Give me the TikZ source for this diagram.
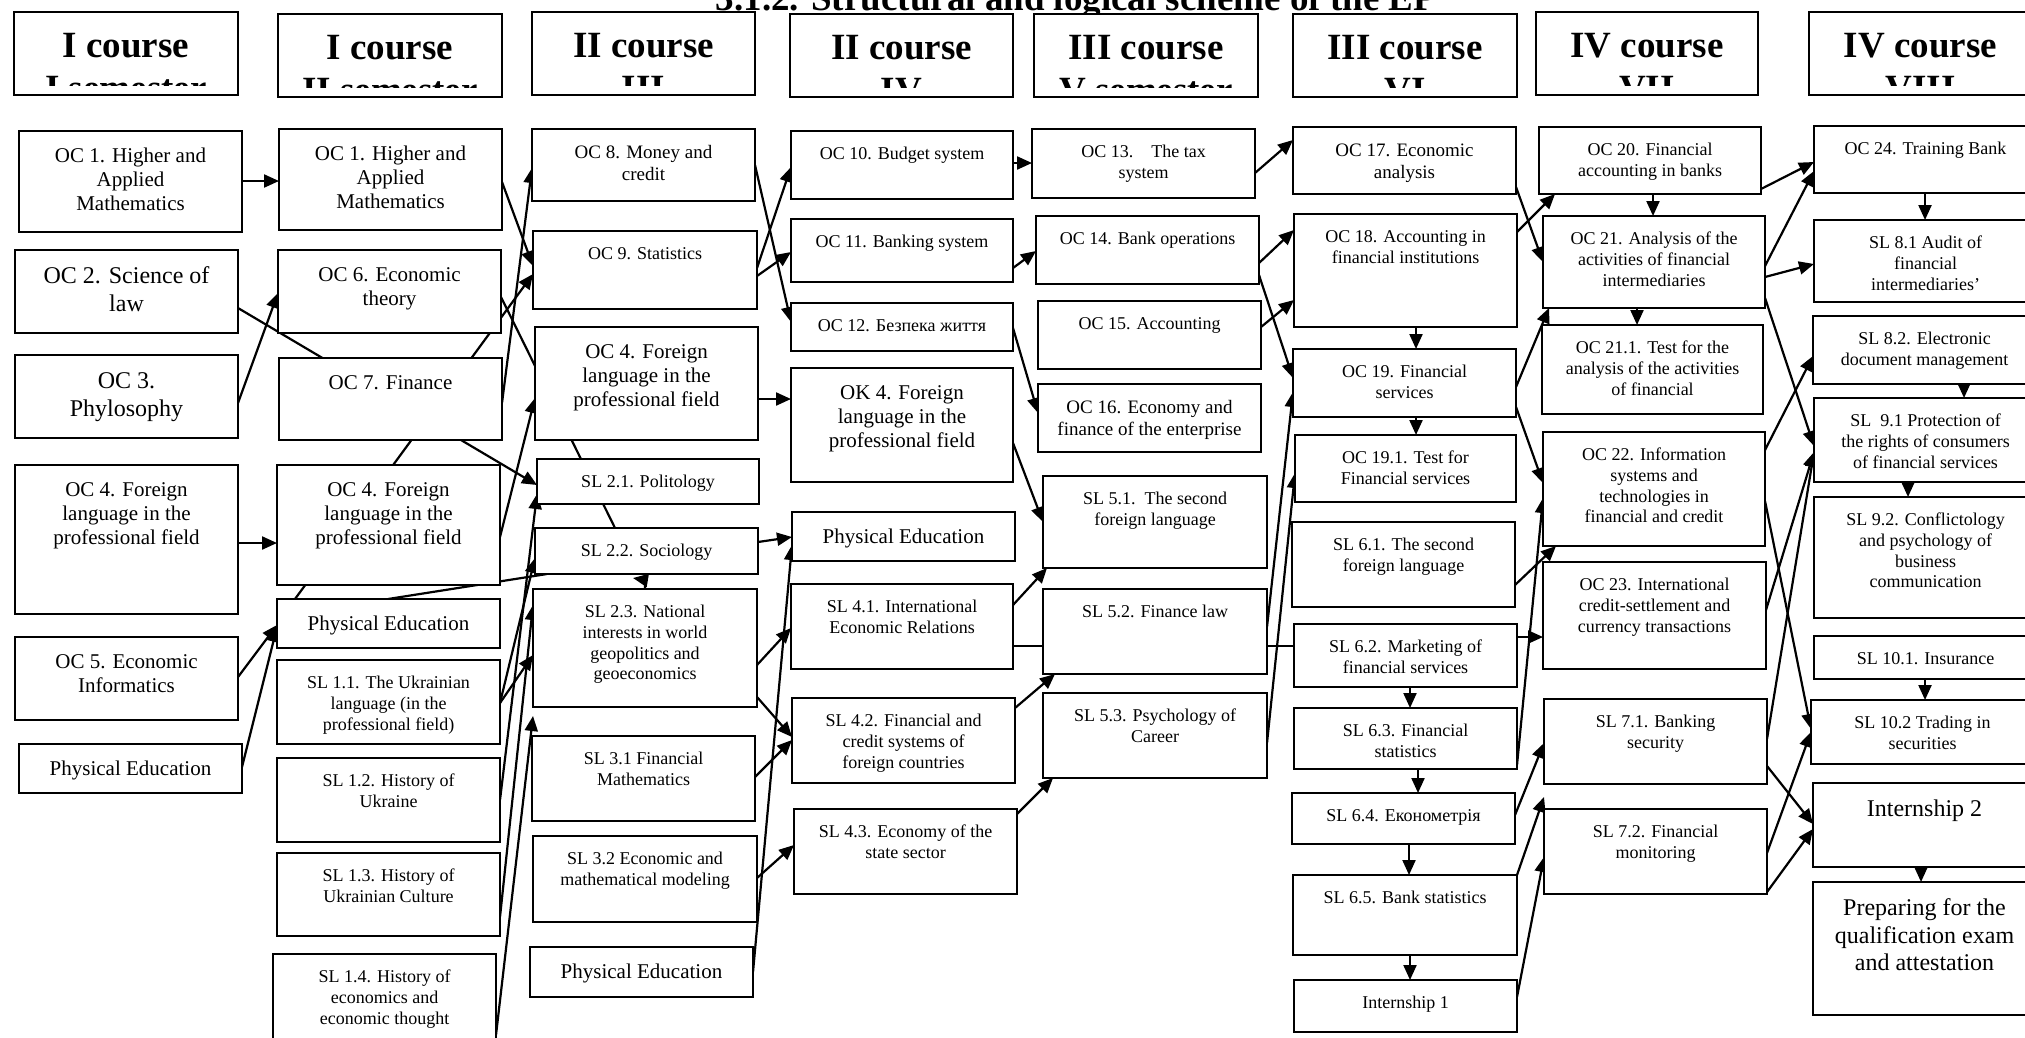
\documentclass[tikz,border=0pt]{standalone}
\usepackage{fontspec}
\setmainfont{Liberation Serif}
\usetikzlibrary{arrows.meta,calc}
\pgfdeclarelayer{bg}
\pgfsetlayers{bg,main}
\tikzset{
 bx/.style={draw, line width=2pt, fill=white, inner sep=0pt, outer sep=0pt, anchor=north west},
 hbx/.style={draw, line width=2.6pt, fill=white, inner sep=0pt, outer sep=0pt, anchor=north west},
 txt/.style={align=center, inner sep=0pt, anchor=north},
 htxt/.style={align=center, inner sep=0pt, anchor=north, font=\bfseries\fontsize{37}{42.5}\selectfont},
 f18/.style={font=\fontsize{18}{20.7}\selectfont},
 f19/.style={font=\fontsize{19}{21.85}\selectfont},
 f21/.style={font=\fontsize{21}{24.15}\selectfont},
 f24/.style={font=\fontsize{24}{27.6}\selectfont},
 arr/.style={line width=2.2pt, -{Triangle[length=15pt,width=13pt]}},
 ln/.style={line width=2.2pt},
}
\newcommand{\mybox}[7]{%
  \node[bx, minimum width={#4-#2}, minimum height={#5-#3}] (#1) at (#2,#3) {};
  \node[txt, #6] (#1-t) at ($(#1.north)+(0,14)$) {\strut #7};
}
\newcommand{\myhead}[6]{%
  \node[hbx, minimum width={#4-#2}, minimum height={#5-#3}] (#1) at (#2,#3) {};
  \begin{scope}
    \clip (#2,#3) rectangle (#4,#5-10);
    \node[htxt] (#1-t) at ($(#1.north)+(0,16)$) {\strut #6};
  \end{scope}
}
\begin{document}
\begin{tikzpicture}[x=1pt,y=-1pt]
\useasboundingbox (0,0) rectangle (2025,1037);
\node[font=\bfseries\fontsize{37}{42}\selectfont, anchor=base, inner sep=0pt] (title) at (1076,10) {3.1.2. Structural and logical scheme of the EP};

% headers
\myhead{h1}{14}{12}{238}{95}{I course\\I semester}
\myhead{h2}{278}{14}{502}{97}{I course\\II semester}
\myhead{h3}{532}{12}{755}{95}{II course\\III}
\myhead{h4}{790}{14}{1013}{97}{II course\\IV}
\myhead{h5}{1034}{14}{1258}{97}{III course\\V semester}
\myhead{h6}{1293}{14}{1517}{97}{III course\\VI}
\myhead{h7}{1536}{12}{1758}{95}{IV course\\VII}
\myhead{h8}{1809}{12}{2032}{95}{IV course\\VIII}

% column 1
\mybox{oc1a}{19}{131}{242}{232}{f21}{OC 1. Higher and\\Applied\\Mathematics}
\mybox{oc2}{15}{250}{238}{333}{f24}{OC 2. Science of\\law}
\mybox{oc3}{15}{355}{238}{438}{f24}{OC 3.\\Phylosophy}
\mybox{oc4a}{15}{465}{238}{614}{f21}{OC 4. Foreign\\language in the\\professional field}
\mybox{oc5}{15}{637}{238}{720}{f21}{OC 5. Economic\\Informatics}
\mybox{pe1}{19}{744}{242}{793}{f21}{Physical Education}

% column 2
\mybox{oc1b}{279}{129}{502}{230}{f21}{OC 1. Higher and\\Applied\\Mathematics}
\mybox{oc6}{278}{250}{501}{333}{f21}{OC 6. Economic\\theory}
\mybox{oc7}{279}{358}{502}{440}{f21}{OC 7. Finance}
\mybox{oc4b}{277}{465}{500}{585}{f21}{OC 4. Foreign\\language in the\\professional field}
\mybox{pe2}{277}{599}{500}{648}{f21}{Physical Education}
\mybox{sl11}{277}{660}{500}{744}{f18}{SL 1.1. The Ukrainian\\language (in the\\professional field)}
\mybox{sl12}{277}{758}{500}{842}{f18}{SL 1.2. History of\\Ukraine}
\mybox{sl13}{277}{853}{500}{936}{f18}{SL 1.3. History of\\Ukrainian Culture}
\mybox{sl14}{273}{954}{496}{1048}{f18}{SL 1.4. History of\\economics and\\economic thought}

% column 3
\mybox{oc8}{532}{129}{755}{201}{f19}{OC 8. Money and\\credit}
\mybox{oc9}{533}{231}{757}{309}{f18}{OC 9. Statistics}
\mybox{oc4c}{535}{327}{758}{440}{f21}{OC 4. Foreign\\language in the\\professional field}
\mybox{sl21}{537}{459}{759}{504}{f18}{SL 2.1. Politology}
\mybox{sl22}{535}{528}{758}{574}{f18}{SL 2.2. Sociology}
\mybox{sl23}{533}{589}{757}{707}{f18}{SL 2.3. National\\interests in world\\geopolitics and\\geoeconomics}
\mybox{sl31}{532}{736}{755}{821}{f18}{SL 3.1 Financial\\Mathematics}
\mybox{sl32}{533}{836}{757}{922}{f18}{SL 3.2 Economic and\\mathematical modeling}
\mybox{pe3}{530}{947}{753}{997}{f21}{Physical Education}

% column 4
\mybox{oc10}{791}{131}{1013}{199}{f18}{OC 10. Budget system}
\mybox{oc11}{791}{219}{1013}{282}{f18}{OC 11. Banking system}
\mybox{oc12}{791}{303}{1013}{351}{f18}{OC 12. Безпека життя}
\mybox{ok4}{791}{368}{1013}{482}{f21}{OK 4. Foreign\\language in the\\professional field}
\mybox{pe4}{792}{512}{1015}{561}{f21}{Physical Education}
\mybox{sl41}{791}{584}{1013}{669}{f18}{SL 4.1. International\\Economic Relations}
\mybox{sl42}{792}{698}{1015}{783}{f18}{SL 4.2. Financial and\\credit systems of\\foreign countries}
\mybox{sl43}{794}{809}{1017}{894}{f18}{SL 4.3. Economy of the\\state sector}

% column 5
\mybox{oc13}{1032}{129}{1255}{198}{f18}{OC 13.\ \ \ \ The tax\\system}
\mybox{oc14}{1036}{216}{1259}{284}{f18}{OC 14. Bank operations}
\mybox{oc15}{1038}{301}{1261}{369}{f18}{OC 15. Accounting}
\mybox{oc16}{1038}{384}{1261}{452}{f19}{OC 16. Economy and\\finance of the enterprise}
\mybox{sl51}{1043}{476}{1267}{568}{f18}{SL 5.1.\ \ The second\\foreign language}
\mybox{sl52}{1043}{589}{1267}{674}{f18}{SL 5.2. Finance law}
\mybox{sl53}{1043}{693}{1267}{778}{f18}{SL 5.3. Psychology of\\Career}

% column 6
\mybox{oc17}{1293}{127}{1516}{194}{f19}{OC 17. Economic\\analysis}
\mybox{oc18}{1294}{214}{1517}{327}{f18}{OC 18. Accounting in\\financial institutions}
\mybox{oc19}{1293}{349}{1516}{417}{f18}{OC 19. Financial\\services}
\mybox{oc191}{1295}{435}{1516}{502}{f18}{OC 19.1. Test for\\Financial services}
\mybox{sl61}{1292}{522}{1515}{607}{f18}{SL 6.1. The second\\foreign language}
\mybox{sl62}{1294}{624}{1517}{687}{f18}{SL 6.2. Marketing of\\financial services}
\mybox{sl63}{1294}{708}{1517}{769}{f18}{SL 6.3. Financial\\statistics}
\mybox{sl64}{1292}{793}{1515}{844}{f18}{SL 6.4. Економетрія}
\mybox{sl65}{1293}{875}{1517}{955}{f18}{SL 6.5. Bank statistics}
\mybox{int1}{1294}{980}{1517}{1032}{f18}{Internship 1}

% column 7
\mybox{oc20}{1539}{127}{1761}{194}{f18}{OC 20. Financial\\accounting in banks}
\mybox{oc21}{1543}{216}{1765}{308}{f18}{OC 21. Analysis of the\\activities of financial\\intermediaries}
\mybox{oc211}{1542}{325}{1763}{414}{f18}{OC 21.1. Test for the\\analysis of the activities\\of financial}
\mybox{oc22}{1543}{432}{1765}{546}{f18}{OC 22. Information\\systems and\\technologies in\\financial and credit}
\mybox{oc23}{1543}{562}{1766}{669}{f18}{OC 23. International\\credit-settlement and\\currency transactions}
\mybox{sl71}{1544}{699}{1767}{784}{f18}{SL 7.1. Banking\\security}
\mybox{sl72}{1544}{809}{1767}{894}{f18}{SL 7.2. Financial\\monitoring}

% column 8
\mybox{oc24}{1814}{126}{2037}{193}{f18}{OC 24. Training Bank}
\mybox{sl81}{1814}{220}{2037}{302}{f18}{SL 8.1 Audit of\\financial\\intermediaries’}
\mybox{sl82}{1813}{316}{2036}{384}{f18}{SL 8.2. Electronic\\document management}
\mybox{sl91}{1814}{398}{2037}{482}{f18}{SL\ \ 9.1 Protection of\\the rights of consumers\\of financial services}
\mybox{sl92}{1814}{497}{2037}{618}{f18}{SL 9.2. Conflictology\\and psychology of\\business\\communication}
\mybox{sl101}{1814}{636}{2037}{679}{f18}{SL 10.1. Insurance}
\mybox{sl102}{1811}{700}{2034}{764}{f18}{SL 10.2 Trading in\\securities}
\mybox{int2}{1813}{783}{2036}{867}{f24}{Internship 2}
\mybox{prep}{1813}{882}{2036}{1015}{f24}{Preparing for the\\qualification exam\\and attestation}

\begin{pgfonlayer}{bg}
\fill[white] (0,0) rectangle (2025,1037);
% col1 -> col2
\draw[arr] (oc1a.east |- 0,181) -- (oc1b.west |- 0,181);
\draw[arr] (oc2.east |- 0,308) -- (sl21.west |- 0,485);
\draw[arr] (oc3.east |- 0,403) -- (oc6.west |- 0,293);
\draw[arr] (oc4a.east |- 0,543) -- (oc4b.west |- 0,543);
\draw[arr] (oc5.east |- 0,677) -- (pe2.west |- 0,625);
\draw[arr] (pe1.east |- 0,767) -- (pe2.west |- 0,627);
% col2 -> col3
\draw[arr] (oc1b.east |- 0,182) -- (oc9.west |- 0,266);
\draw[arr] (oc7.east |- 0,403) -- (oc8.west |- 0,168);
\draw[arr] (pe2.north -| 295,0) -- (oc9.west |- 0,274);
\draw[ln] (oc6.east |- 0,297) -- (sl22.north -| 615,0);
\draw[arr] (oc4b.east |- 0,537) -- (oc4c.west |- 0,398);
\draw[ln] (pe2.north -| 388,0) -- (sl22.south -| 547,0);
\draw[arr] (sl23.north -| 645,0) -- ++(0,-9) -- ++(-12,-2);
\draw[arr] (sl11.east |- 0,703) -- (sl22.west |- 0,558);
\draw[arr] (sl11.east |- 0,703) -- (sl23.west |- 0,655);
\draw[arr] (sl12.east |- 0,800) -- (sl21.west |- 0,494);
\draw[arr] (sl13.east |- 0,917) -- (sl23.west |- 0,605);
\draw[arr] (sl14.east |- 0,1035) -- (sl23.west |- 0,716);
% col3 -> col4
\draw[arr] (oc8.east |- 0,165) -- (oc12.west |- 0,322);
\draw[arr] (oc9.east |- 0,268) -- (oc10.west |- 0,167);
\draw[arr] (oc9.east |- 0,276) -- (oc11.west |- 0,252);
\draw[arr] (oc4c.east |- 0,399) -- (ok4.west |- 0,399);
\draw[arr] (sl22.east |- 0,542) -- (pe4.west |- 0,537);
\draw[arr] (pe3.east |- 0,972) -- (pe4.west |- 0,545);
\draw[arr] (sl23.east |- 0,665) -- (sl41.west |- 0,628);
\draw[arr] (sl23.east |- 0,697) -- (sl42.west |- 0,737);
\draw[arr] (sl31.east |- 0,777) -- (sl42.west |- 0,740);
\draw[arr] (sl32.east |- 0,878) -- (sl43.west |- 0,845);
% col4 -> col5
\draw[arr] (oc10.east |- 0,163) -- (oc13.west |- 0,163);
\draw[arr] (oc11.east |- 0,268) -- (oc14.west |- 0,251);
\draw[arr] (oc12.east |- 0,328) -- (oc16.west |- 0,413);
\draw[arr] (ok4.east |- 0,443) -- (sl51.west |- 0,522);
\draw[arr] (sl41.east |- 0,605) -- (sl51.south -| 1047,0);
\draw[ln] (sl41.east |- 0,646) -- (sl62.west |- 0,646);
\draw[arr] (sl42.east |- 0,708) -- (sl52.south -| 1055,0);
\draw[arr] (sl43.east |- 0,814) -- (sl53.south -| 1053,0);
% col5 -> col6
\draw[arr] (oc13.east |- 0,173) -- (oc17.west |- 0,140);
\draw[arr] (oc14.east |- 0,263) -- (oc18.west |- 0,230);
\draw[arr] (oc15.east |- 0,327) -- (oc18.west |- 0,300);
\draw[arr] (oc14.east |- 0,275) -- (oc19.west |- 0,378);
\draw[arr] (sl52.east |- 0,627) -- (oc19.west |- 0,392);
\draw[arr] (sl53.east |- 0,743) -- (oc191.west |- 0,473);
% col6 vertical
\draw[arr] (oc18.south -| 1416,0) -- (oc19.north -| 1416,0);
\draw[arr] (oc19.south -| 1416,0) -- (oc191.north -| 1416,0);
\draw[arr] (sl62.south -| 1410,0) -- (sl63.north -| 1410,0);
\draw[arr] (sl63.south -| 1418,0) -- (sl64.north -| 1418,0);
\draw[arr] (sl64.south -| 1409,0) -- (sl65.north -| 1409,0);
\draw[arr] (sl65.south -| 1410,0) -- (int1.north -| 1410,0);
% col6 -> col7
\draw[arr] (oc17.east |- 0,187) -- (oc21.west |- 0,262);
\draw[arr] (oc18.east |- 0,232) -- (oc20.south -| 1555,0);
\draw[arr] (oc19.east |- 0,387) -- (oc21.south -| 1549,0);
\draw[arr] (oc19.east |- 0,407) -- (oc22.west |- 0,483);
\draw[arr] (sl61.east |- 0,585) -- (oc22.south -| 1556,0);
\draw[arr] (sl62.east |- 0,637) -- (oc23.west |- 0,637);
\draw[arr] (sl63.east |- 0,765) -- (oc22.west |- 0,498);
\draw[arr] (sl64.east |- 0,815) -- (sl71.west |- 0,743);
\draw[arr] (sl65.east |- 0,875) -- ([yshift=12pt]sl72.north west);
\draw[arr] (int1.east |- 0,997) -- (sl72.west |- 0,857);
% col7 vertical
\draw[arr] (oc20.south -| 1653,0) -- (oc21.north -| 1653,0);
\draw[arr] (oc21.south -| 1637,0) -- (oc211.north -| 1637,0);
% col7 -> col8
\draw[arr] (oc20.east |- 0,189) -- (oc24.west |- 0,162);
\draw[arr] (oc21.east |- 0,266) -- (oc24.west |- 0,171);
\draw[arr] (oc21.east |- 0,277) -- (sl81.west |- 0,264);
\draw[arr] (oc21.east |- 0,298) -- (sl91.west |- 0,446);
\draw[arr] (oc22.east |- 0,450) -- (sl82.west |- 0,356);
\draw[arr] (oc22.east |- 0,501) -- (sl102.west |- 0,729);
\draw[arr] (oc23.east |- 0,610) -- (sl91.west |- 0,452);
\draw[arr] (sl71.east |- 0,739) -- (sl91.west |- 0,452);
\draw[arr] (sl71.east |- 0,766) -- (int2.west |- 0,824);
\draw[arr] (sl72.east |- 0,853) -- (sl102.west |- 0,732);
\draw[arr] (sl72.east |- 0,892) -- (int2.west |- 0,829);
% col8 vertical
\draw[arr] (oc24.south -| 1925,0) -- (sl81.north -| 1925,0);
\draw[arr] (sl82.south -| 1964,0) -- (sl91.north -| 1964,0);
\draw[arr] (sl91.south -| 1908,0) -- (sl92.north -| 1908,0);
\draw[arr] (sl101.south -| 1925,0) -- (sl102.north -| 1925,0);
\draw[arr] (int2.south -| 1921,0) -- (prep.north -| 1921,0);
\end{pgfonlayer}
\end{tikzpicture}
\end{document}
